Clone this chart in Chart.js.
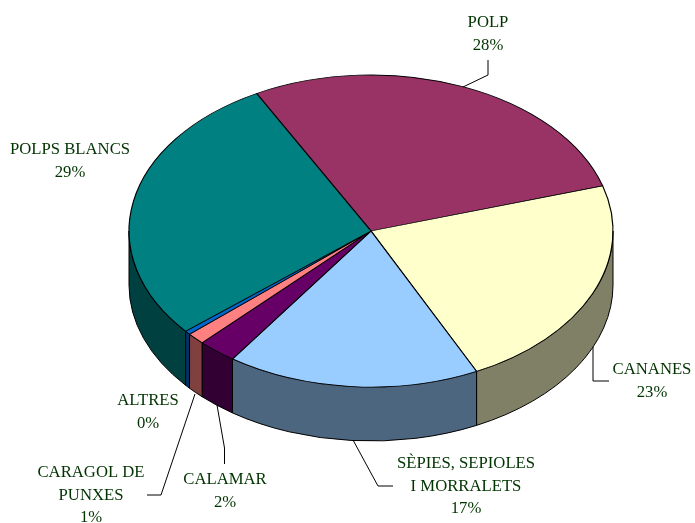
<!DOCTYPE html>
<html>
<head>
<meta charset="utf-8">
<style>html,body{margin:0;padding:0;background:#fff}canvas{display:block}</style>
<script src="https://cdn.jsdelivr.net/npm/chart.js@4"></script>
</head>
<body>
<canvas id="c" width="695" height="523"></canvas>
<script>
const categories = ['POLP','CANANES','SÈPIES, SEPIOLES I MORRALETS','CALAMAR','CARAGOL DE PUNXES','ALTRES','POLPS BLANCS'];
const values = [28.2,22.5,16.9,2.6,1.2,0.4,28.3];
const percentLabels = ['28%','23%','17%','2%','1%','0%','29%'];
const topColors = ['#993366','#FFFFCC','#99CCFF','#660066','#FF8080','#0066CC','#008080'];
const sideColors = ['#4D1A33','#808066','#4D6680','#330033','#804040','#003366','#004040'];

const labelLines = [['POLP'],['CANANES'],['SÈPIES, SEPIOLES','I MORRALETS'],['CALAMAR'],['CARAGOL DE','PUNXES'],['ALTRES'],['POLPS BLANCS']];
const labelAnchors = [[488,27],[652,374],[466,468],[225,484],[91,477],[148,405],[70,154]];
const leaders = [
  [[488,60],[488,75],[463,87]],
  [[593,347],[593,381],[609,381]],
  [[353,440],[378,486],[393,486]],
  [[217,405],[224.5,448],[224.5,464]],
  [[195,394],[161,495],[147,495]]
];
const squash = 156/242, depth = 54, lineGap = 22.6;

const pie3d = {
  id:'pie3d',
  beforeDatasetsDraw(chart){
    const ctx = chart.ctx, arcs = chart.getDatasetMeta(0).data;
    const cx = arcs[0].x, cy = arcs[0].y, rx = arcs[0].outerRadius, ry = rx*squash;
    ctx.save();
    ctx.lineWidth = 1; ctx.strokeStyle = '#000';
    arcs.forEach((a,i)=>{
      for(let k=-1;k<=1;k++){
        const lo = Math.max(a.startAngle, 2*Math.PI*k), hi = Math.min(a.endAngle, 2*Math.PI*k+Math.PI);
        if(hi<=lo) continue;
        ctx.beginPath();
        ctx.ellipse(cx,cy,rx,ry,0,lo,hi,false);
        ctx.ellipse(cx,cy+depth,rx,ry,0,hi,lo,true);
        ctx.closePath();
        ctx.fillStyle = sideColors[i];
        ctx.fill(); ctx.stroke();
      }
    });
    ctx.restore();
    ctx.save();
    ctx.translate(cx,cy); ctx.scale(1,squash); ctx.translate(-cx,-cy);
  },
  afterDatasetsDraw(chart){
    const ctx = chart.ctx;
    ctx.restore();
    ctx.save();
    ctx.strokeStyle = '#000'; ctx.lineWidth = 1;
    leaders.forEach(pts=>{
      ctx.beginPath();
      pts.forEach((p,i)=> i?ctx.lineTo(p[0],p[1]):ctx.moveTo(p[0],p[1]));
      ctx.stroke();
    });
    ctx.fillStyle = '#003300';
    ctx.font = '16.7px "Liberation Serif"';
    ctx.textAlign = 'center'; ctx.textBaseline = 'alphabetic';
    labelLines.forEach((lines,i)=>{
      const [x,y] = labelAnchors[i];
      [...lines, percentLabels[i]].forEach((t,j)=> ctx.fillText(t,x,y+j*lineGap));
    });
    ctx.restore();
  }
};

new Chart(document.getElementById('c'),{
  type:'pie',
  data:{labels:categories,datasets:[{data:values,backgroundColor:topColors,borderColor:'#000',borderWidth:1.2}]},
  options:{
    responsive:false,animation:false,
    radius:242,rotation:-28.2,
    layout:{padding:{left:47,right:0,top:0,bottom:61}},
    plugins:{legend:{display:false},tooltip:{enabled:false}},
    events:[]
  },
  plugins:[pie3d]
});
</script>
</body>
</html>
